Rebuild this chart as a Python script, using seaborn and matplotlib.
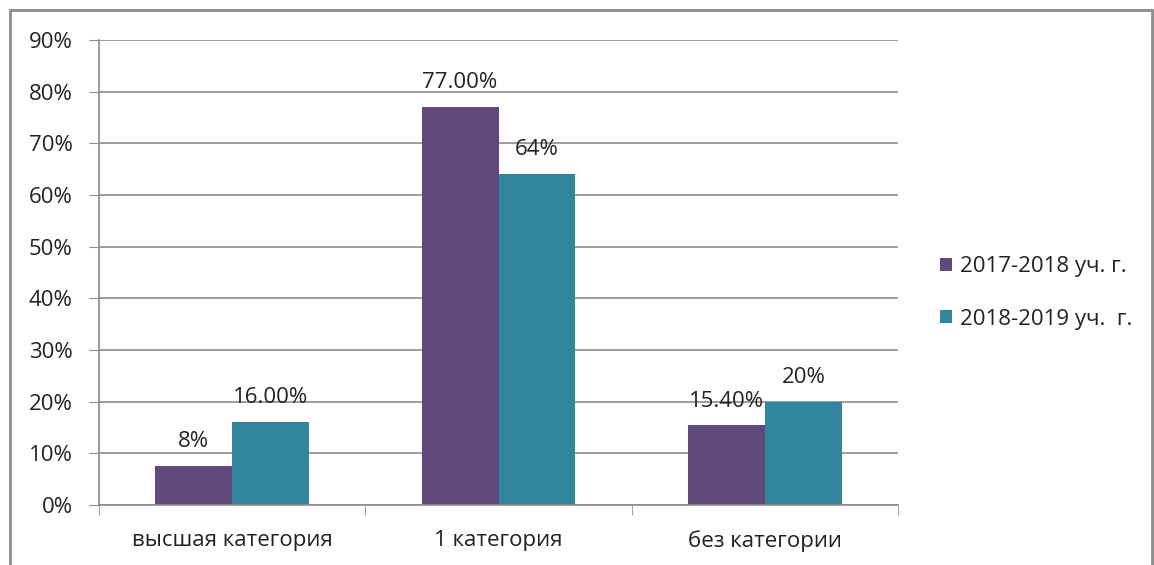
import pandas as pd
import seaborn as sns
import matplotlib.pyplot as plt
from matplotlib.patches import Rectangle
from matplotlib.ticker import PercentFormatter

# данные с диаграммы
categories = ['высшая категория', '1 категория', 'без категории']
years = ['2017-2018 уч. г.', '2018-2019 уч.  г.']
values_2017 = [0.075, 0.77, 0.154]
values_2018 = [0.16, 0.64, 0.20]
labels_2017 = ['8%', '77.00%', '15.40%']
labels_2018 = ['16.00%', '64%', '20%']

data = pd.DataFrame({
    'Категория': categories * 2,
    'Год': [years[0]] * 3 + [years[1]] * 3,
    'Доля': values_2017 + values_2018,
})

sns.set_style('white')
plt.rcParams['font.family'] = ['Open Sans', 'DejaVu Sans']

fig = plt.figure(figsize=(11.54, 5.65), dpi=100)
ax = fig.add_axes([99 / 1154, 1 - 505 / 565, (898 - 99) / 1154, (505 - 40) / 565])

sns.barplot(data=data, x='Категория', y='Доля', hue='Год',
            palette=['#604A7B', '#31859C'], width=0.578, gap=0,
            saturation=1, linewidth=0, ax=ax)

for cont, labs in zip(ax.containers, [labels_2017, labels_2018]):
    ax.bar_label(cont, labels=labs, padding=10, fontsize=16, color='#222222')

ax.set_xlim(-0.5, 2.5)
ax.set_ylim(0, 0.9)
ax.set_yticks([i / 10 for i in range(10)])
ax.yaxis.set_major_formatter(PercentFormatter(1.0, decimals=0))
ax.yaxis.grid(True, color='#8C8C8C', linewidth=1.2)
ax.set_axisbelow(True)
ax.set_xlabel('')
ax.set_ylabel('')

ax.set_xticks([-0.5, 0.5, 1.5, 2.5], minor=True)
ax.tick_params(axis='x', which='major', length=0, pad=18, labelsize=16, labelcolor='#222222')
ax.tick_params(axis='x', which='minor', length=7, color='#8C8C8C', direction='out', bottom=True)
ax.tick_params(axis='y', length=7, color='#8C8C8C', direction='out', left=True,
               labelsize=16, labelcolor='#222222', pad=12)

for side in ['top', 'right']:
    ax.spines[side].set_visible(False)
for side in ['left', 'bottom']:
    ax.spines[side].set_color('#8C8C8C')
    ax.spines[side].set_linewidth(1.2)

handles, lbls = ax.get_legend_handles_labels()
ax.legend(handles, lbls, loc='center left', bbox_to_anchor=(920 / 1154, 1 - 293 / 565),
          bbox_transform=fig.transFigure, frameon=False, fontsize=16,
          handlelength=0.55, handleheight=0.55, handletextpad=0.35, labelspacing=1.4,
          labelcolor='#222222')

fig.patches.append(Rectangle((10 / 1154, -10 / 565), 1142 / 1154, 565 / 565,
                             transform=fig.transFigure, fill=False,
                             edgecolor='#8C8C8C', linewidth=2))

fig.savefig('out.png', dpi=100)
